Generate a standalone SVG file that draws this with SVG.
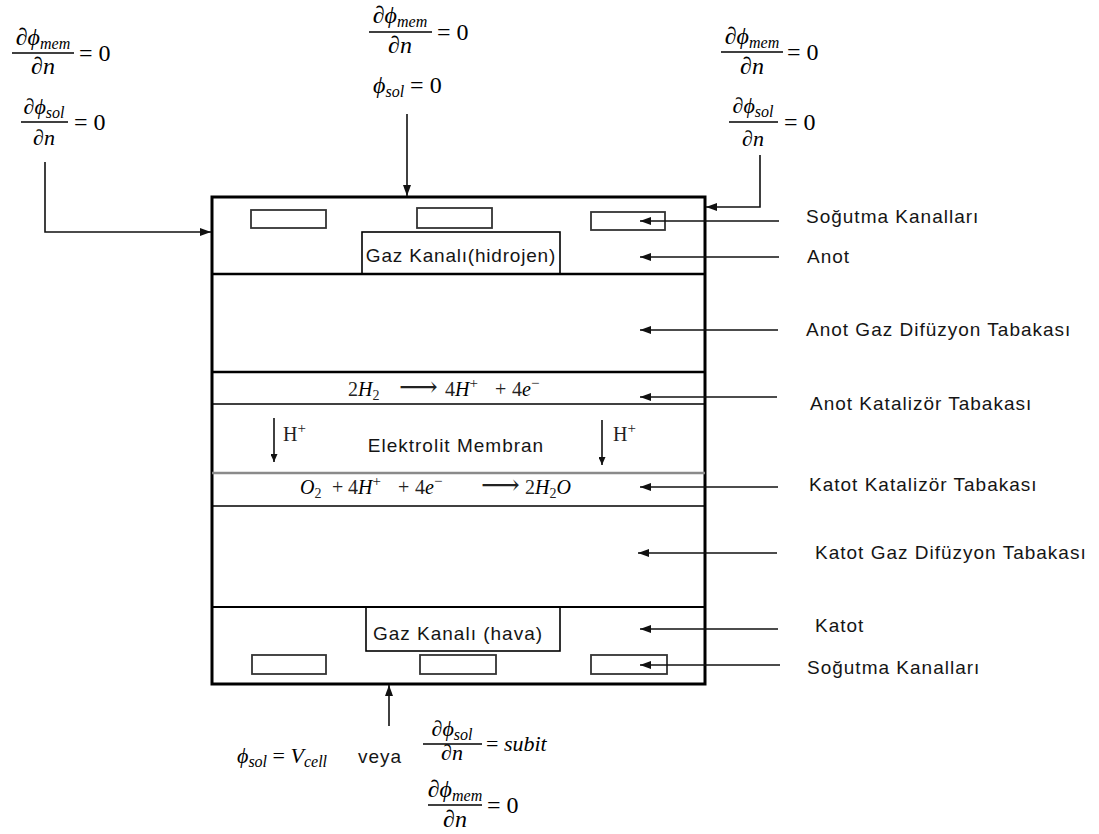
<svg xmlns="http://www.w3.org/2000/svg" width="1099" height="834" viewBox="0 0 1099 834">
<style>
.lbl{font-family:"Liberation Sans",Arial,sans-serif;font-size:19px;letter-spacing:1px;fill:#151515}
.m{font-family:"Liberation Serif","DejaVu Serif",serif;font-style:italic;fill:#000}
.up{font-style:normal}
.big{font-size:24px}
.mid{font-size:22px}
.sub{font-size:16px}
.rx{font-family:"Liberation Serif","DejaVu Serif",serif;font-size:20px;fill:#222}
.arr{font-size:27px}
.frac{stroke:#000;stroke-width:1.6}
.conn{fill:none;stroke:#111;stroke-width:1.6}
.bd{fill:none;stroke:#000}
.ch{fill:#fff;stroke:#333;stroke-width:1.8}
</style>
<defs>
<marker id="ah" markerUnits="userSpaceOnUse" markerWidth="11" markerHeight="8" refX="11" refY="4" orient="auto">
<path d="M0,0 L11,4 L0,8 z" fill="#111"/>
</marker>
<marker id="ahs" markerUnits="userSpaceOnUse" markerWidth="8" markerHeight="7" refX="8" refY="3.5" orient="auto">
<path d="M0,0 L8,3.5 L0,7 z" fill="#111"/>
</marker>
</defs>
<rect width="1099" height="834" fill="#fff"/>

<g id="cell">
<rect x="212" y="197" width="493" height="487" class="bd" stroke-width="3"/>
<line x1="212" y1="274" x2="705" y2="274" stroke="#000" stroke-width="2.5"/>
<line x1="212" y1="372" x2="705" y2="372" stroke="#000" stroke-width="2.5"/>
<line x1="212" y1="404" x2="705" y2="404" stroke="#000" stroke-width="1.5"/>
<line x1="212" y1="473" x2="705" y2="473" stroke="#8a8a8a" stroke-width="2.5"/>
<line x1="212" y1="506" x2="705" y2="506" stroke="#000" stroke-width="1.5"/>
<line x1="212" y1="607" x2="705" y2="607" stroke="#000" stroke-width="1.8"/>
</g>

<g id="cooling-top">
<rect x="251" y="210" width="75" height="18" class="ch"/>
<rect x="417" y="208" width="75" height="20" class="ch"/>
<rect x="591" y="212" width="74" height="18" class="ch"/>
</g>
<g id="gas-channel-top">
<rect x="362" y="232" width="198" height="42" class="bd" stroke-width="1.6"/>
<text x="461" y="262" class="lbl" text-anchor="middle" style="letter-spacing:0.8px">Gaz Kanalı(hidrojen)</text>
</g>

<g id="anode-reaction">
<text class="rx" y="396"><tspan x="348">2</tspan><tspan class="m">H</tspan><tspan font-size="14" dy="4">2</tspan><tspan x="399" y="396" class="arr">⟶</tspan><tspan x="445" y="396">4</tspan><tspan class="m">H</tspan><tspan font-size="15" dy="-8">+</tspan><tspan x="495" y="396">+</tspan><tspan x="512">4</tspan><tspan class="m">e</tspan><tspan font-size="15" dy="-8">−</tspan></text>
</g>

<g id="membrane">
<text x="456" y="452" class="lbl" text-anchor="middle">Elektrolit Membran</text>
<line x1="274" y1="418" x2="274" y2="462" class="conn" stroke-width="1.5" marker-end="url(#ahs)"/>
<text x="283" y="441" class="rx" font-size="19">H<tspan font-size="15" dy="-8">+</tspan></text>
<line x1="602" y1="420" x2="602" y2="465" class="conn" stroke-width="1.5" marker-end="url(#ahs)"/>
<text x="613" y="441" class="rx" font-size="19">H<tspan font-size="15" dy="-8">+</tspan></text>
</g>

<g id="cathode-reaction">
<text class="rx" y="494"><tspan x="300" class="m">O</tspan><tspan font-size="14" dy="4">2</tspan><tspan x="332" y="494">+</tspan><tspan x="348">4</tspan><tspan class="m">H</tspan><tspan font-size="15" dy="-8">+</tspan><tspan x="398" y="494">+</tspan><tspan x="415">4</tspan><tspan class="m">e</tspan><tspan font-size="15" dy="-8">−</tspan><tspan x="481" y="494" class="arr">⟶</tspan><tspan x="525" y="494">2</tspan><tspan class="m">H</tspan><tspan font-size="14" dy="4">2</tspan><tspan class="m" dy="-4">O</tspan></text>
</g>

<g id="gas-channel-bottom">
<rect x="366" y="607" width="194" height="44" class="bd" stroke-width="1.6"/>
<text x="458" y="640" class="lbl" text-anchor="middle">Gaz Kanalı (hava)</text>
</g>
<g id="cooling-bottom">
<rect x="252" y="655" width="74" height="19" class="ch"/>
<rect x="420" y="655" width="76" height="19" class="ch"/>
<rect x="591" y="655" width="76" height="19" class="ch"/>
</g>

<g id="bc-top-left">
<text x="43" y="45" class="m big" text-anchor="middle">∂ϕ<tspan class="sub" dy="4">mem</tspan></text>
<line x1="12" y1="53" x2="74" y2="53" class="frac"/>
<text x="43" y="74" class="m big" text-anchor="middle">∂n</text>
<text x="79" y="61" class="m big up">= 0</text>
<text x="44" y="114" class="m mid" text-anchor="middle">∂ϕ<tspan class="sub" dy="4">sol</tspan></text>
<line x1="21" y1="122" x2="68" y2="122" class="frac" stroke-width="1.3"/>
<text x="44" y="145" class="m mid" text-anchor="middle">∂n</text>
<text x="74" y="130" class="m big up">= 0</text>
</g>

<g id="bc-top-middle">
<text x="400" y="23" class="m big" text-anchor="middle">∂ϕ<tspan class="sub" dy="4">mem</tspan></text>
<line x1="369" y1="32" x2="432" y2="32" class="frac"/>
<text x="400" y="53" class="m big" text-anchor="middle">∂n</text>
<text x="437" y="40" class="m big up">= 0</text>
<text x="373" y="93" class="m big">ϕ<tspan class="sub" dy="4">sol</tspan><tspan class="up" dy="-4"> = 0</tspan></text>
</g>

<g id="bc-top-right">
<text x="752" y="44" class="m big" text-anchor="middle">∂ϕ<tspan class="sub" dy="4">mem</tspan></text>
<line x1="721" y1="52" x2="783" y2="52" class="frac"/>
<text x="752" y="74" class="m big" text-anchor="middle">∂n</text>
<text x="787" y="60" class="m big up">= 0</text>
<text x="753" y="113" class="m mid" text-anchor="middle">∂ϕ<tspan class="sub" dy="4">sol</tspan></text>
<line x1="729" y1="122" x2="778" y2="122" class="frac" stroke-width="1.3"/>
<text x="753" y="146" class="m mid" text-anchor="middle">∂n</text>
<text x="784" y="130" class="m big up">= 0</text>
</g>

<g id="bc-bottom">
<text x="237" y="763" class="m mid">ϕ<tspan class="sub" dy="4">sol</tspan><tspan class="up" dy="-4"> = </tspan>V<tspan class="sub" dy="4">cell</tspan></text>
<text x="358" y="763" class="lbl">veya</text>
<text x="452" y="736" class="m mid" text-anchor="middle">∂ϕ<tspan class="sub" dy="4">sol</tspan></text>
<line x1="423" y1="744" x2="482" y2="744" class="frac" stroke-width="1.3"/>
<text x="452" y="760" class="m mid" text-anchor="middle">∂n</text>
<text x="486" y="751" class="m mid"><tspan class="up">= </tspan>subit</text>
<text x="455" y="797" class="m big" text-anchor="middle">∂ϕ<tspan class="sub" dy="4">mem</tspan></text>
<line x1="428" y1="805" x2="482" y2="805" class="frac"/>
<text x="455" y="827" class="m big" text-anchor="middle">∂n</text>
<text x="487" y="813" class="m big up">= 0</text>
</g>

<g id="labels">
<text x="806" y="223" class="lbl">Soğutma Kanalları</text>
<text x="807" y="263" class="lbl">Anot</text>
<text x="806" y="336" class="lbl">Anot Gaz Difüzyon Tabakası</text>
<text x="810" y="410" class="lbl">Anot Katalizör Tabakası</text>
<text x="809" y="491" class="lbl">Katot Katalizör Tabakası</text>
<text x="815" y="559" class="lbl">Katot Gaz Difüzyon Tabakası</text>
<text x="815" y="632" class="lbl">Katot</text>
<text x="807" y="674" class="lbl">Soğutma Kanalları</text>
</g>

<g id="connectors">
<path d="M45,162 V232 H211" class="conn" marker-end="url(#ah)"/>
<path d="M407,114 V196" class="conn" marker-end="url(#ah)"/>
<path d="M760,155 V207 H706" class="conn" marker-end="url(#ah)"/>
<path d="M389,726 V685" class="conn" stroke="#555" stroke-width="2" marker-end="url(#ah)"/>
<path d="M779,221 H640" class="conn" marker-end="url(#ah)"/>
<path d="M779,257 H640" class="conn" marker-end="url(#ah)"/>
<path d="M778,330 H640" class="conn" marker-end="url(#ah)"/>
<path d="M777,397 H640" class="conn" marker-end="url(#ah)"/>
<path d="M778,487 H640" class="conn" marker-end="url(#ah)"/>
<path d="M777,553 H638" class="conn" marker-end="url(#ah)"/>
<path d="M778,629 H640" class="conn" marker-end="url(#ah)"/>
<path d="M780,665 H640" class="conn" marker-end="url(#ah)"/>
</g>
</svg>
